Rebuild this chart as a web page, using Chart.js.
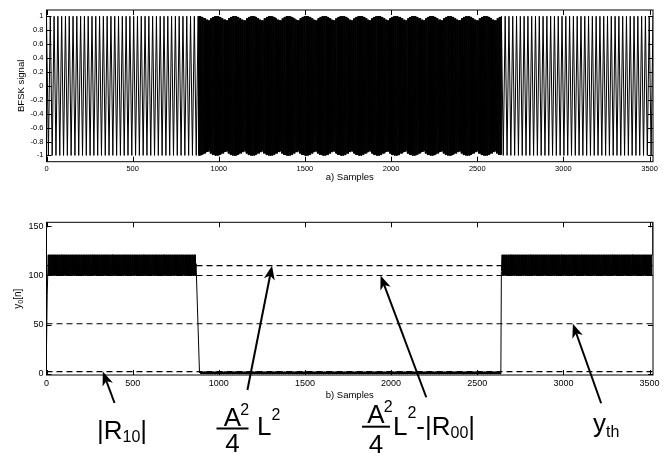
<!DOCTYPE html>
<html>
<head>
<meta charset="utf-8">
<script src="https://cdn.jsdelivr.net/npm/chart.js@4.4.0/dist/chart.umd.min.js"></script>
<style>
html, body { margin: 0; padding: 0; background: #fff; }
#wrap { position: relative; width: 670px; height: 457px; overflow: hidden; }
#sig { position: absolute; left: 0; top: 0; }
#corr { position: absolute; left: 0; top: 190px; }
</style>
</head>
<body>
<div id="wrap">
  <canvas id="sig" width="670" height="190"></canvas>
  <canvas id="corr" width="670" height="267"></canvas>
</div>
<script>
var FONT = "'Liberation Sans', Arial, Helvetica, sans-serif";

// axes
var nMax = 3520;
var xTicks = [0, 500, 1000, 1500, 2000, 2500, 3000, 3500];
var sigTicks = [-1, -0.8, -0.6, -0.4, -0.2, 0, 0.2, 0.4, 0.6, 0.8, 1];
var corrTicks = [0, 50, 100, 150];

// a) BFSK signal
var bits = [0, 1, 1, 0];
var bitLength = 880;
var halfPeriod = [11, 2];   // samples from a crest to the next trough, for bit 0 / bit 1
var ripple = [0.94, 0.97, 0.99, 1, 1, 0.99, 0.97, 0.95];   // crest height across one ripple of the bit-1 tone
var rippleLength = 104;

// b) y0[n]: dense bands plus the samples at the edges
var bandStart = [10, 892, 2644];
var bandEnd = [864, 2634, 3512];
var bandLow = [100, 0, 100];
var bandHigh = [121, 2.3, 121];
var edgeN = [0, 4, 868, 888, 2637, 2640, 3516, 3519];
var edgeY = [28, 80, 112, 1, 1, 104, 121, 154];

// dashed reference levels
var levelValues = [110, 100, 51, 2.5];

// build the traces
var sig = [];
for (var b = 0; b < bits.length; b++) {
  var start = b * bitLength;
  var step = halfPeriod[bits[b]];
  var k = 0;
  for (var n = start; n < start + bitLength; n += step) {
    var amp = 1;
    if (bits[b] == 1) amp = ripple[Math.floor((n % rippleLength) / (rippleLength / ripple.length))];
    sig.push({ x: n, y: (k % 2 ? -amp : amp) });
    k++;
  }
}
sig.push({ x: nMax, y: 1 });

var y0 = [];
for (var i = 0; i < edgeN.length; i++) y0.push({ x: edgeN[i], y: edgeY[i] });
for (var s = 0; s < bandStart.length; s++) {
  var j = 0;
  for (var n2 = bandStart[s]; n2 <= bandEnd[s]; n2 += 2) {
    y0.push({ x: n2, y: (j % 2 ? bandLow[s] : bandHigh[s]) });
    j++;
  }
}
y0.sort(function (a, c) { return a.x - c.x; });

// matlab style box with inward ticks
var boxTicks = {
  id: 'boxTicks',
  afterDatasetsDraw: function (chart) {
    var ctx = chart.ctx, a = chart.chartArea;
    var xs = chart.scales.x, ys = chart.scales.y;
    ctx.save();
    ctx.strokeStyle = '#000';
    ctx.lineWidth = 1;
    ctx.strokeRect(a.left, a.top, a.right - a.left, a.bottom - a.top);
    ctx.beginPath();
    xs.ticks.forEach(function (t) {
      var px = Math.round(xs.getPixelForValue(t.value)) + 0.5;
      ctx.moveTo(px, a.bottom); ctx.lineTo(px, a.bottom - 5);
      ctx.moveTo(px, a.top); ctx.lineTo(px, a.top + 5);
    });
    ys.ticks.forEach(function (t) {
      var py = Math.round(ys.getPixelForValue(t.value)) + 0.5;
      ctx.moveTo(a.left, py); ctx.lineTo(a.left + 5, py);
      ctx.moveTo(a.right, py); ctx.lineTo(a.right - 5, py);
    });
    ctx.stroke();
    ctx.restore();
  }
};

function fixedTicks(list) {
  return function (scale) { scale.ticks = list.map(function (v) { return { value: v }; }); };
}
function plain(v) { return String(v); }

new Chart(document.getElementById('sig'), {
  type: 'line',
  data: {
    datasets: [{
      data: sig,
      borderColor: '#000',
      borderWidth: 1,
      pointRadius: 0,
      tension: 0,
      fill: false
    }]
  },
  options: {
    responsive: false,
    animation: false,
    events: [],
    layout: { padding: { top: 10, right: 17, left: 0, bottom: 0 } },
    plugins: { legend: { display: false }, tooltip: { enabled: false } },
    scales: {
      x: {
        type: 'linear', min: 0, max: nMax,
        grid: { display: false, drawTicks: false }, border: { display: false },
        afterBuildTicks: fixedTicks(xTicks),
        afterFit: function (s) { s.height = 28.3; },
        ticks: { color: '#000', font: { family: FONT, size: 7.5 }, padding: 3, maxRotation: 0, autoSkip: false, callback: plain },
        title: { display: true, text: 'a) Samples', color: '#000', font: { family: FONT, size: 9.5 }, padding: { top: 0, bottom: 7 } }
      },
      y: {
        type: 'linear', min: -1.09, max: 1.09,
        grid: { display: false, drawTicks: false }, border: { display: false },
        afterBuildTicks: fixedTicks(sigTicks),
        afterFit: function (s) { s.width = 46.5; },
        ticks: { color: '#000', font: { family: FONT, size: 7.5 }, padding: 3, callback: plain },
        title: { display: true, text: 'BFSK signal', color: '#000', font: { family: FONT, size: 9.5 }, padding: { top: 16, bottom: 0 } }
      }
    }
  },
  plugins: [boxTicks]
});

// arrows: tip and tail in data units
var arrowTipX = [327, 1309, 1939, 3055];
var arrowTipY = [2.5, 110, 100, 51];
var arrowTailX = [395, 1166, 2204, 3219];
var arrowTailY = [-29.4, -16.2, -23.6, -29.7];

function drawRuns(ctx, x, y, parts) {
  parts.forEach(function (p) {
    ctx.font = p[1] + 'px ' + FONT;
    ctx.fillText(p[0], x, y + (p[2] || 0));
    x += ctx.measureText(p[0]).width;
  });
  return x;
}

function drawFraction(ctx, cx, numBase, lineY, denBase, halfW) {
  ctx.font = '26px ' + FONT;
  var wA = ctx.measureText('A').width;
  ctx.fillText('A', cx - wA / 2, numBase);
  ctx.font = '16px ' + FONT;
  ctx.fillText('2', cx + wA / 2 - 1, numBase - 11);
  ctx.fillRect(cx - halfW, lineY - 1, halfW * 2, 2);
  ctx.font = '26px ' + FONT;
  var w4 = ctx.measureText('4').width;
  ctx.fillText('4', cx - w4 / 2, denBase);
}

function arrow(ctx, x1, y1, x2, y2) {
  var a = Math.atan2(y2 - y1, x2 - x1), L = 14, W = 5.5;
  var c = Math.cos(a), sn = Math.sin(a);
  ctx.beginPath();
  ctx.moveTo(x1, y1);
  ctx.lineTo(x2 - L * 0.7 * c, y2 - L * 0.7 * sn);
  ctx.lineWidth = 2;
  ctx.stroke();
  ctx.beginPath();
  ctx.moveTo(x2, y2);
  ctx.lineTo(x2 - L * c + W * sn, y2 - L * sn - W * c);
  ctx.lineTo(x2 - L * 0.72 * c, y2 - L * 0.72 * sn);
  ctx.lineTo(x2 - L * c - W * sn, y2 - L * sn + W * c);
  ctx.closePath();
  ctx.fill();
}

var notes = {
  id: 'notes',
  afterDraw: function (chart) {
    var ctx = chart.ctx, a = chart.chartArea;
    var xs = chart.scales.x, ys = chart.scales.y;
    var x0 = a.left, b0 = a.bottom;
    ctx.save();
    ctx.fillStyle = '#000';
    ctx.strokeStyle = '#000';
    for (var i = 0; i < arrowTipX.length; i++) {
      arrow(ctx, xs.getPixelForValue(arrowTailX[i]), ys.getPixelForValue(arrowTailY[i]),
        xs.getPixelForValue(arrowTipX[i]), ys.getPixelForValue(arrowTipY[i]));
    }
    ctx.textAlign = 'left';
    ctx.textBaseline = 'alphabetic';
    // |R10|
    drawRuns(ctx, x0 + 50.5, b0 + 64, [['|', 26], ['R', 26], ['10', 16, 3], ['|', 26]]);
    // A^2/4 L^2
    drawFraction(ctx, x0 + 186, b0 + 51, b0 + 53.5, b0 + 77, 16);
    drawRuns(ctx, x0 + 210.5, b0 + 60, [['L', 26], ['2', 16, -15]]);
    // A^2/4 L^2 - |R00|
    drawFraction(ctx, x0 + 329.5, b0 + 48, b0 + 51.7, b0 + 78, 14);
    drawRuns(ctx, x0 + 346.5, b0 + 60, [['L', 26], ['2', 16, -17], ['-', 26], ['|', 26], ['R', 26], ['00', 16, 3], ['|', 26]]);
    // y_th
    drawRuns(ctx, x0 + 546.5, b0 + 57, [['y', 26], ['th', 16, 5]]);
    // y0[n] axis label
    ctx.translate(21, (a.top + a.bottom) / 2);
    ctx.rotate(-Math.PI / 2);
    ctx.font = '10px ' + FONT;
    var w = ctx.measureText('y').width + ctx.measureText('[n]').width;
    ctx.font = '7px ' + FONT;
    w += ctx.measureText('0').width;
    drawRuns(ctx, -w / 2, 0, [['y', 10], ['0', 7, 2], ['[n]', 10]]);
    ctx.restore();
  }
};

var levelSets = levelValues.map(function (v) {
  return {
    data: [{ x: 0, y: v }, { x: nMax, y: v }],
    borderColor: '#000',
    borderWidth: 1.2,
    borderDash: [6, 4],
    pointRadius: 0,
    fill: false,
    order: 2
  };
});

new Chart(document.getElementById('corr'), {
  type: 'line',
  data: {
    datasets: [{
      data: y0,
      borderColor: '#000',
      borderWidth: 1,
      pointRadius: 0,
      tension: 0,
      fill: false,
      order: 1
    }].concat(levelSets)
  },
  options: {
    responsive: false,
    animation: false,
    events: [],
    layout: { padding: { top: 32.3, right: 17, left: 0, bottom: 0 } },
    plugins: { legend: { display: false }, tooltip: { enabled: false } },
    scales: {
      x: {
        type: 'linear', min: 0, max: nMax,
        grid: { display: false, drawTicks: false }, border: { display: false },
        afterBuildTicks: fixedTicks(xTicks),
        afterFit: function (s) { s.height = 82; },
        ticks: { color: '#000', font: { family: FONT, size: 9 }, padding: 3, maxRotation: 0, autoSkip: false, callback: plain },
        title: { display: true, text: 'b) Samples', color: '#000', font: { family: FONT, size: 9.5 }, padding: { top: 0, bottom: 56 } }
      },
      y: {
        type: 'linear', min: -1, max: 154,
        grid: { display: false, drawTicks: false }, border: { display: false },
        afterBuildTicks: fixedTicks(corrTicks),
        afterFit: function (s) { s.width = 46.5; },
        ticks: { color: '#000', font: { family: FONT, size: 9 }, padding: 3, callback: plain }
      }
    }
  },
  plugins: [boxTicks, notes]
});
</script>
</body>
</html>
